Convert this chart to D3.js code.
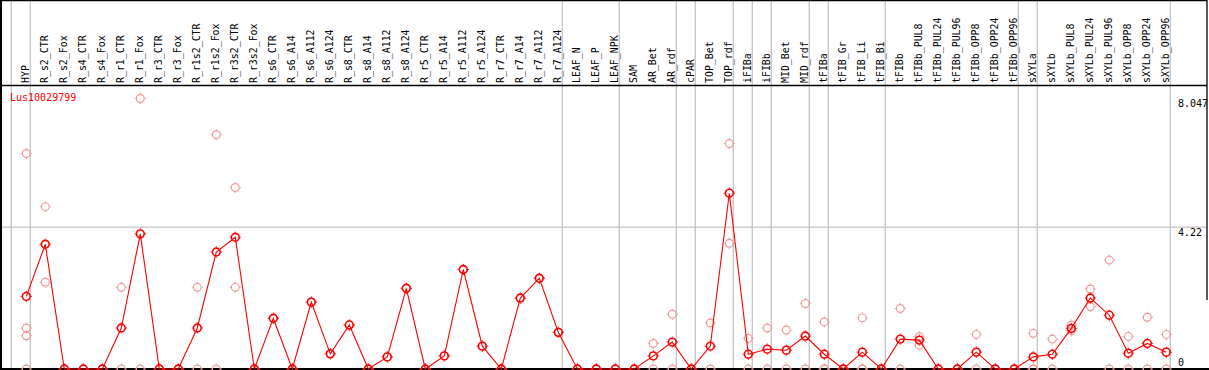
<!DOCTYPE html>
<html>
<head>
<meta charset="utf-8">
<script src="https://cdn.jsdelivr.net/npm/d3@7"></script>
<style>
  html, body { margin: 0; padding: 0; background: #fff; }
  svg { display: block; }
  text { font-family: "DejaVu Sans Mono", monospace; font-size: 10px; }
</style>
</head>
<body>
<svg id="chart" width="1209" height="370"></svg>
<script>
const title = "Lus10029799";
const categories = ["HYP","R_s2_CTR","R_s2_Fox","R_s4_CTR","R_s4_Fox","R_r1_CTR","R_r1_Fox","R_r3_CTR","R_r3_Fox","R_r1s2_CTR","R_r1s2_Fox","R_r3s2_CTR","R_r3s2_Fox","R_s6_CTR","R_s6_A14","R_s6_A112","R_s6_A124","R_s8_CTR","R_s8_A14","R_s8_A112","R_s8_A124","R_r5_CTR","R_r5_A14","R_r5_A112","R_r5_A124","R_r7_CTR","R_r7_A14","R_r7_A112","R_r7_A124","LEAF_N","LEAF_P","LEAF_NPK","SAM","AR_Bet","AR_rdf","cPAR","TOP_Bet","TOP_rdf","iFIBa","iFIBb","MID_Bet","MID_rdf","tFIBa","tFIB_Gr","tFIB_Li","tFIB_Bi","tFIBb","tFIBb_PUL8","tFIBb_PUL24","tFIBb_PUL96","tFIBb_OPP8","tFIBb_OPP24","tFIBb_OPP96","sXYLa","sXYLb","sXYLb_PUL8","sXYLb_PUL24","sXYLb_PUL96","sXYLb_OPP8","sXYLb_OPP24","sXYLb_OPP96"];
const groupSizes = [1, 28, 3, 3, 1, 2, 1, 1, 2, 1, 3, 7, 1, 7];
const meanValues = [2.16,3.71,0,0,0,1.22,4.02,0,0,1.22,3.48,3.92,0,1.51,0,1.99,0.45,1.31,0,0.36,2.40,0,0.39,2.96,0.68,0,2.11,2.70,1.09,0,0,0,0,0.39,0.80,0,0.68,5.23,0.44,0.59,0.56,0.98,0.44,0,0.50,0,0.89,0.86,0,0,0.50,0,0,0.36,0.44,1.21,2.11,1.60,0.47,0.76,0.50];
const replicateValues = [
  [6.41,1.22,0.99,0],[4.83,2.58],[0],[0],[0],[2.43,0],[8.047,0],[0],[0],[2.43,0],[6.97,0],[5.40,2.43],[0],
  [1.51],[0],[1.99],[0.45],[1.31],[0],[0.36],[2.40],[0],[0.39],[2.96],[0.68],[0],[2.11],[2.70],[1.09],
  [0],[0],[0],[0],[0.76,0],[1.63,0],[0],[1.37,0],[6.71,3.74],[0.91,0],[1.22,0],[1.16,0],[1.95,0],[1.40,0,0],
  [0],[1.52,0,0],[0],[1.80,0],[0.96,0.71],[0],[0],[1.03,0],[0],[0],[1.06,0,0],[0.89,0],[1.31,1.14],[2.38,1.86],
  [3.24,0],[0.97,0],[1.54,0],[1.03,0]
];
const yTickValues = [0, 4.22, 8.047];
const yTickLabels = ["0", "4.22", "8.047"];

(function () {
const svg = d3.select("#chart");
const W = 1209;
const pLeft = 1, pRight = 1207, headerBottom = 85.5, pBottom = 369;

const x = d3.scalePoint().domain(categories).range([26.3, 26.3 + 19 * (categories.length - 1)]);
const y = d3.scaleLinear().domain([0, 8.047]).range([pBottom, 98.5]);

const grid = "#c4c4c4";
svg.append("line").attr("x1", pLeft).attr("x2", pRight)
  .attr("y1", y(4.22)).attr("y2", y(4.22)).attr("stroke", grid).attr("stroke-width", 1.3);

let idx = -1;
const sepX = [x(categories[0]) - 15];
groupSizes.forEach(s => { idx += s; sepX.push(x(categories[idx]) + 4); });
svg.selectAll("line.sep").data(sepX).join("line").attr("class", "sep")
  .attr("x1", d => d).attr("x2", d => d).attr("y1", 0).attr("y2", pBottom)
  .attr("stroke", grid).attr("stroke-width", 1.3);

svg.append("line").attr("x1", pLeft).attr("x2", pRight).attr("y1", 0.5).attr("y2", 0.5).attr("stroke", "#000").attr("stroke-width", 1.5);
svg.append("line").attr("x1", pLeft).attr("x2", pRight).attr("y1", headerBottom).attr("y2", headerBottom).attr("stroke", "#000").attr("stroke-width", 1.3);
svg.append("line").attr("x1", 1).attr("x2", 1).attr("y1", 0).attr("y2", 370).attr("stroke", "#000").attr("stroke-width", 2);
svg.append("line").attr("x1", pRight).attr("x2", pRight).attr("y1", 0).attr("y2", 300).attr("stroke", "#000").attr("stroke-width", 1.3);
svg.append("line").attr("x1", pLeft).attr("x2", W).attr("y1", 369).attr("y2", 369).attr("stroke", "#000").attr("stroke-width", 2);

svg.selectAll("text.col").data(categories).join("text").attr("class", "col")
  .attr("transform", d => `translate(${x(d) + 3},83) rotate(-90) scale(0.99,1)`)
  .attr("fill", "#000").text(d => d);

svg.selectAll("text.yl").data(yTickValues).join("text").attr("class", "yl")
  .attr("x", 1178).attr("y", (d, i) => i === 0 ? 365.5 : y(d) + 8.6)
  .attr("fill", "#000").text((d, i) => yTickLabels[i]);

svg.append("text").attr("x", 10).attr("y", 100.7).attr("fill", "#ff0000").text(title);

function marker(g, cx, cy, color, sw) {
  g.append("circle").attr("cx", cx).attr("cy", cy).attr("r", 3.9)
    .attr("fill", "none").attr("stroke", color).attr("stroke-width", sw);
  [[0, -1], [0, 1], [-1, 0], [1, 0]].forEach(([dx, dy]) => {
    g.append("line").attr("x1", cx + dx * 4.5).attr("y1", cy + dy * 4.5)
      .attr("x2", cx + dx * 5.6).attr("y2", cy + dy * 5.6)
      .attr("stroke", color).attr("stroke-width", 1);
  });
}

const repG = svg.append("g");
categories.forEach((c, i) => {
  replicateValues[i].forEach(v => marker(repG, x(c), y(v), "#ee9a9a", 1.2));
});

svg.append("path").datum(meanValues)
  .attr("d", d3.line().x((d, i) => x(categories[i])).y(d => y(d)))
  .attr("fill", "none").attr("stroke", "#ff0000").attr("stroke-width", 1.1);

const meanG = svg.append("g");
categories.forEach((c, i) => marker(meanG, x(c), y(meanValues[i]), "#ff0000", 1.6));
})();
</script>
</body>
</html>
